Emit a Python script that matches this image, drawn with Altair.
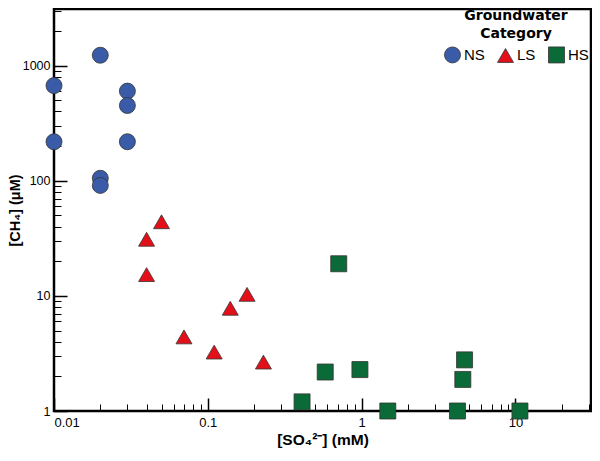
import altair as alt
import pandas as pd

# Data
ns_x = [0.01, 0.01, 0.02, 0.02, 0.02, 0.03, 0.03, 0.03]
ns_y = [670, 218, 1230, 105, 91, 600, 450, 218]
ls_x = [0.04, 0.04, 0.05, 0.07, 0.11, 0.14, 0.18, 0.23]
ls_y = [31, 15.3, 44, 4.4, 3.25, 7.8, 10.3, 2.66]
hs_x = [0.41, 0.58, 0.71, 0.975, 1.48, 4.2, 4.55, 4.67, 10.7]
hs_y = [1.2, 2.18, 19, 2.29, 1.0, 1.0, 1.88, 2.78, 1.0]

categories = ["NS", "LS", "HS"]
colors = ["#3A5CA8", "#E3101A", "#0B6B38"]
shapes = ["circle", "triangle-up", "square"]
sizes = [256, 256, 169]

x_major = [0.01, 0.1, 1, 10]
y_major = [1, 10, 100, 1000]
x_minor = [m * 10 ** e for e in range(-2, 2) for m in range(2, 10)] + [20, 30]
y_minor = [m * 10 ** e for e in range(0, 4) for m in range(2, 10) if m * 10 ** e <= 3000]

rows = []
for cat, xs, ys in [("NS", ns_x, ns_y), ("LS", ls_x, ls_y), ("HS", hs_x, hs_y)]:
    for a, b in zip(xs, ys):
        rows.append({"so4": a, "ch4": b, "cat": cat})
df = pd.DataFrame(rows)

FONT = "Liberation Sans"
HEAVY = "DejaVu Sans"
xscale = alt.Scale(type="log", domain=[0.01, 31], nice=False)
yscale = alt.Scale(type="log", domain=[1, 3100], nice=False)

points = alt.Chart(df).mark_point(filled=True, opacity=1, stroke="#333333", strokeWidth=0.8).encode(
    x=alt.X("so4:Q", scale=xscale,
            axis=alt.Axis(orient="bottom", values=x_major, format="~g", tickSize=13, offset=-13,
                          domain=False, grid=False, tickColor="black", tickWidth=1.5,
                          labelFont=FONT, labelFontSize=13, labelColor="black", labelPadding=5,
                          title="[SO₄²⁻] (mM)", titleFont=FONT, titleFontSize=15.5,
                          titleFontWeight="bold", titleColor="black", titlePadding=3)),
    y=alt.Y("ch4:Q", scale=yscale,
            axis=alt.Axis(orient="left", values=y_major, format="~g", tickSize=13, offset=-13,
                          domain=False, grid=False, tickColor="black", tickWidth=1.5,
                          labelFont=FONT, labelFontSize=12.5, labelColor="black", labelPadding=4,
                          title="[CH₄] (μM)", titleFont=FONT, titleFontSize=14.5,
                          titleFontWeight="bold", titleColor="black", titlePadding=0)),
    color=alt.Color("cat:N", scale=alt.Scale(domain=categories, range=colors),
                    legend=alt.Legend(title=["Groundwater", "Category"], orient="none",
                                      legendX=390, legendY=0, direction="horizontal",
                                      columns=3, titleFont=HEAVY, titleFontSize=14,
                                      titleFontWeight="bold", titleColor="black",
                                      titleAlign="center", titleAnchor="middle",
                                      titleLineHeight=18,
                                      labelFont=FONT, labelFontSize=15, labelColor="black",
                                      labelOffset=3, columnPadding=10, symbolStrokeWidth=0.8)),
    shape=alt.Shape("cat:N", scale=alt.Scale(domain=categories, range=shapes)),
    size=alt.Size("cat:N", scale=alt.Scale(domain=categories, range=sizes)),
)

minor = alt.Chart(df).mark_point(opacity=0).encode(
    x=alt.X("so4:Q", scale=xscale,
            axis=alt.Axis(orient="bottom", values=x_minor, tickSize=7, offset=-7, domain=False,
                          grid=False, labels=False, title=None, tickColor="black", tickWidth=1)),
    y=alt.Y("ch4:Q", scale=yscale,
            axis=alt.Axis(orient="left", values=y_minor, tickSize=7, offset=-7, domain=False,
                          grid=False, labels=False, title=None, tickColor="black", tickWidth=1)),
)

chart = alt.layer(points, minor).resolve_axis(x="independent", y="independent").properties(
    width=537, height=402,
    padding={"left": 46, "top": 1, "right": 1, "bottom": 42},
    autosize=alt.AutoSizeParams(type="none"),
    background="white",
).configure_view(stroke="black", strokeWidth=2.5)

chart.save("out.html", embed_options={"renderer": "svg", "actions": False})
